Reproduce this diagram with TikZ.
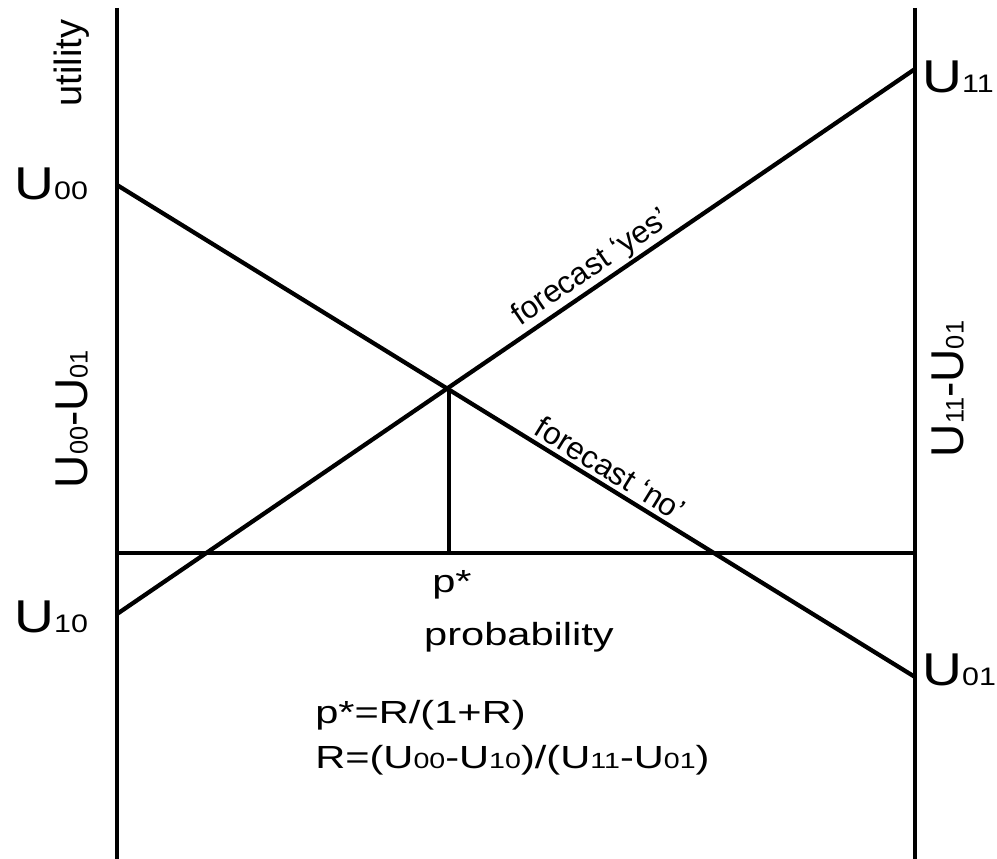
\documentclass[tikz,border=0pt]{standalone}
\usepackage{fontspec}
\setmainfont{Liberation Sans}
\newfontfamily\widefont[FakeStretch=1.3]{Liberation Sans}
\newfontfamily\ufont[FakeStretch=1.2]{Liberation Sans}
\newcommand\bigUlabel[1]{{\fontsize{34.5}{40}\selectfont U}{\fontsize{19}{24}\selectfont #1}}
\newcommand\smU[1]{U{\fontsize{16.5}{20}\selectfont #1}}
\tikzset{
  thick line/.style={line width=3.2pt, line cap=butt},
  hlabel/.style={inner sep=0pt, font=\ufont},
  vlabel/.style={inner sep=0pt, rotate=90},
  maintext/.style={inner sep=0pt, font=\widefont\fontsize{24}{30}\selectfont},
  fclabel/.style={inner sep=0pt, sloped, font=\fontsize{23.5}{28}\selectfont}
}
\begin{document}
\begin{tikzpicture}[x=0.75pt,y=-0.75pt]
\useasboundingbox (0,0) rectangle (997,859);
% axes
\coordinate (LT) at (117,8);
\coordinate (LB) at (117,860);
\coordinate (RT) at (915,8);
\coordinate (RB) at (915,860);
\coordinate (H0) at (117,553);
\coordinate (H1) at (915,553);
\coordinate (N0) at (117,185);
\coordinate (N1) at (915,677);
\coordinate (Y0) at (117,614);
\coordinate (Y1) at (915,69);
\coordinate (Ptop) at (449,389);
\coordinate (Pbot) at (449,553);
\draw[thick line] (LT) -- (LB);
\draw[thick line] (RT) -- (RB);
\draw[thick line] (H0) -- (H1);
\draw[thick line] (Ptop) -- (Pbot);
\draw[thick line] (N0) -- node[fclabel, pos=0.607, anchor=south, above=3pt] (fno) {forecast ‘no’} (N1);
\draw[thick line] (Y0) -- node[fclabel, pos=0.607, anchor=south, above=1pt] (fyes) {forecast ‘yes’} (Y1);
% horizontal labels
\node[hlabel, anchor=base west] (u00) at (14,200) {\bigUlabel{00}};
\node[hlabel, anchor=base west] (u10) at (14,632) {\bigUlabel{10}};
\node[hlabel, anchor=base west] (u11) at (922,93) {\bigUlabel{11}};
\node[hlabel, anchor=base west] (u01) at (922,685) {\bigUlabel{01}};
% rotated labels
\node[vlabel, font=\fontsize{28.5}{34}\selectfont] (util) at (72,63) {utility};
\node[vlabel] (d0) at (72,419) {\bigUlabel{00}{\fontsize{34.5}{40}\selectfont -}\bigUlabel{01}};
\node[vlabel] (d1) at (948,389) {\bigUlabel{11}{\fontsize{34.5}{40}\selectfont -}\bigUlabel{01}};
% bottom texts
\node[maintext, anchor=base] (pstar) at (452,592) {p*};
\node[maintext, anchor=base] (prob) at (519,645) {probability};
\node[maintext, anchor=base west] (f1) at (315,723) {p*=R/(1+R)};
\node[maintext, anchor=base west] (f2) at (315,768) {R=(\smU{00}-\smU{10})/(\smU{11}-\smU{01})};
\end{tikzpicture}
\end{document}
